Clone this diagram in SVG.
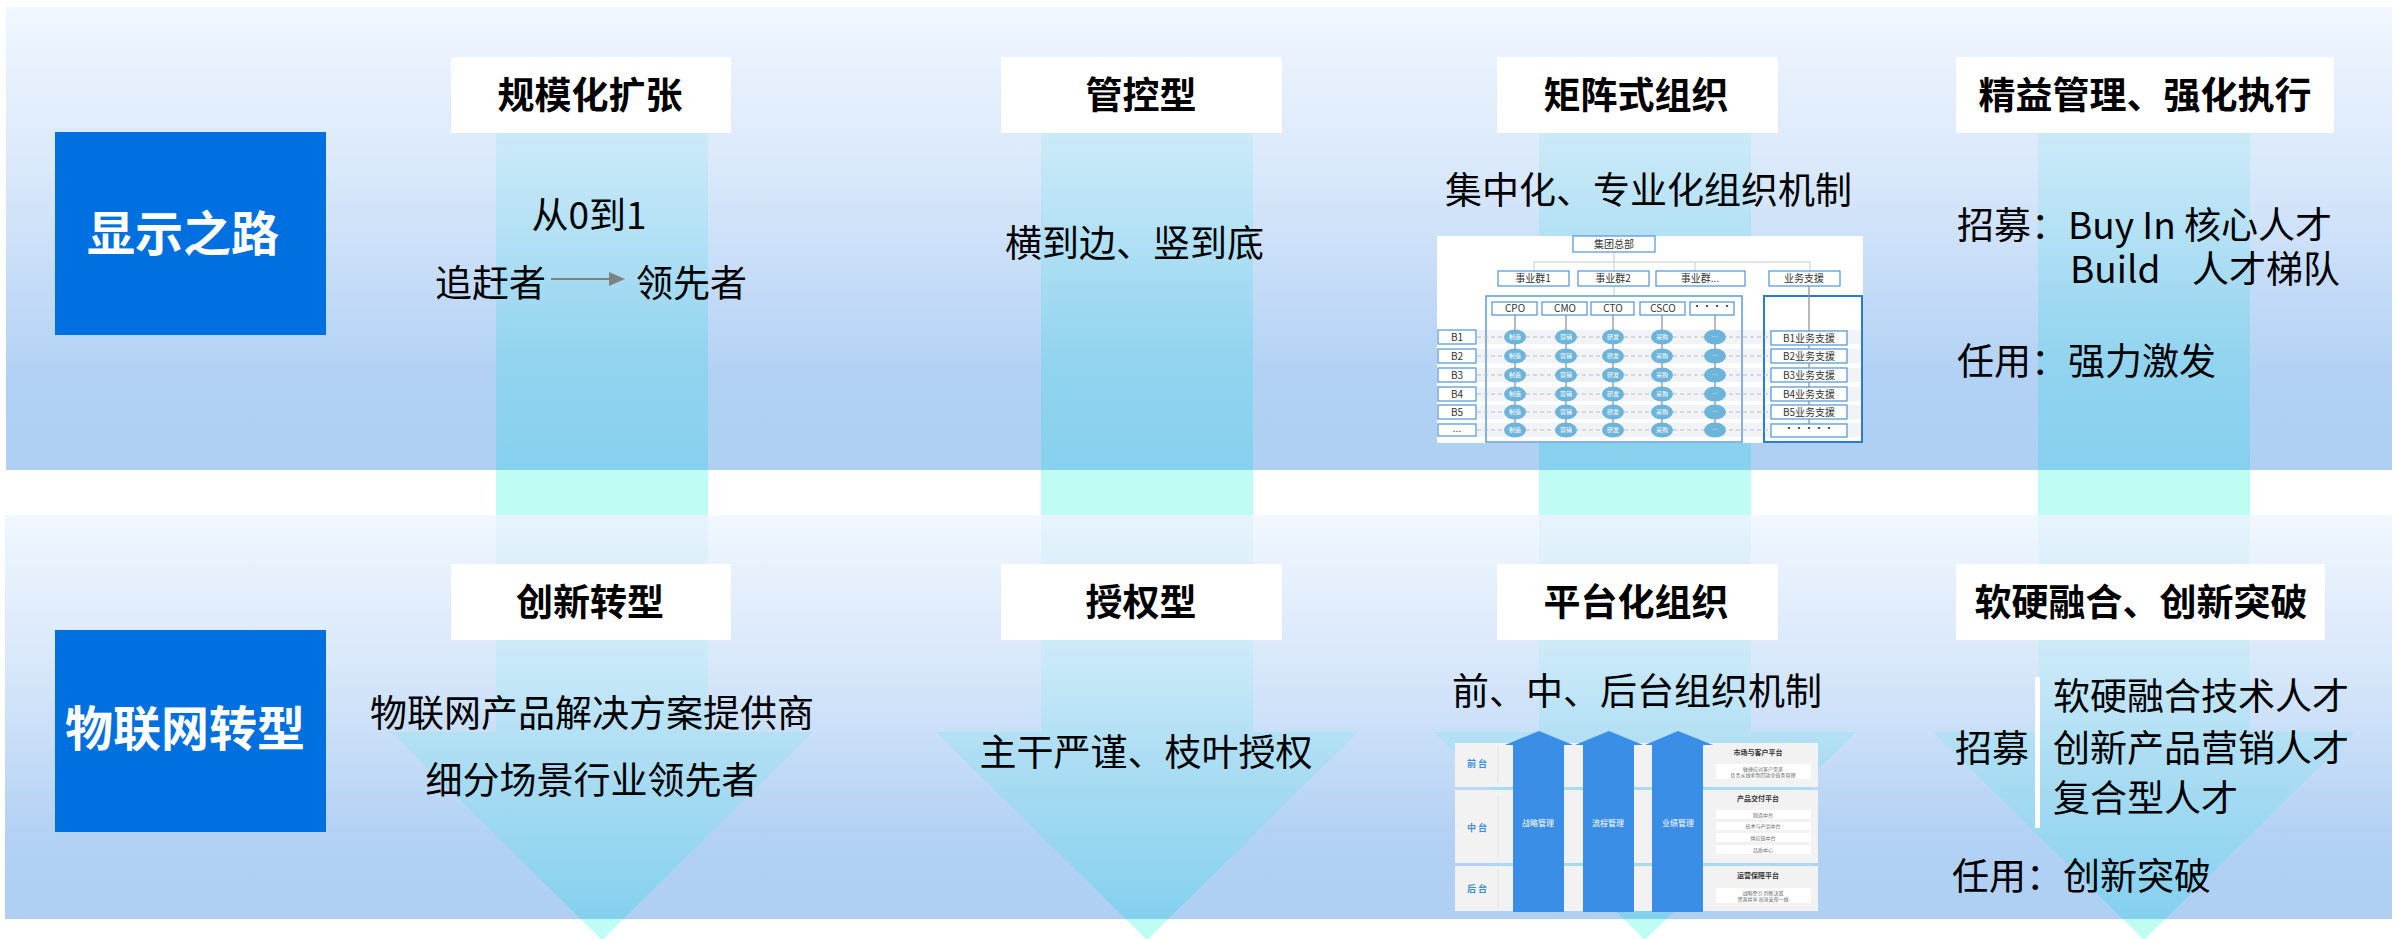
<svg xmlns="http://www.w3.org/2000/svg" width="2397" height="939" viewBox="0 0 2397 939">
<defs>
<style>
.t{font-family:"Noto Sans CJK SC","Noto Sans",sans-serif;font-size:37px;fill:#000}
.hd{font-weight:700;text-anchor:middle}
.lb{font-family:"Noto Sans CJK SC",sans-serif;font-size:48px;font-weight:700;fill:#fff;text-anchor:middle}
.hbox{fill:#fff}
.bbox{fill:#0070E0}
.gap{fill:#BFFCF4}
.s{font-family:"Noto Sans CJK SC",sans-serif;font-size:10px;fill:#333;text-anchor:middle}
.e{font-family:"Noto Sans CJK SC",sans-serif;font-size:6px;fill:#fff;text-anchor:middle}
.mb{fill:#fff;stroke:#5B9BD5;stroke-width:1.3}
.el{fill:#6CB4DA}
.cl{stroke:#8A8A8A;stroke-width:1.2}
.dl{stroke:#BDBDBD;stroke-width:1;stroke-dasharray:4 3}
.row{fill:#F1F3F6}
.pr{fill:#F2F2F2}
.arw{fill:#3A8EE6}
.at{font-family:"Noto Sans CJK SC",sans-serif;font-size:8px;fill:#fff;text-anchor:middle}
.pl{font-family:"Noto Sans CJK SC",sans-serif;font-size:9px;font-weight:700;fill:#3D8BE0;text-anchor:middle}
.pt{font-family:"Noto Sans CJK SC",sans-serif;font-size:7px;font-weight:700;fill:#333;text-anchor:middle}
.ps{font-family:"Noto Sans CJK SC",sans-serif;font-size:5px;fill:#666;text-anchor:middle}
</style>
<linearGradient id="pg" x1="0" y1="0" x2="0" y2="1">
<stop offset="0" stop-color="#F0F7FE"/>
<stop offset="0.4" stop-color="#D6E6FA"/>
<stop offset="0.8" stop-color="#B2D1F4"/>
<stop offset="1" stop-color="#AFD0F3"/>
</linearGradient>
<linearGradient id="bt" gradientUnits="userSpaceOnUse" x1="0" y1="133" x2="0" y2="470">
<stop offset="0" stop-color="#CCEAF8"/>
<stop offset="0.35" stop-color="#AEDFF4"/>
<stop offset="0.65" stop-color="#93D4EF"/>
<stop offset="1" stop-color="#86D1EE"/>
</linearGradient>
<linearGradient id="bb" gradientUnits="userSpaceOnUse" x1="0" y1="515" x2="0" y2="919">
<stop offset="0" stop-color="#E6F3FC"/>
<stop offset="0.36" stop-color="#C9E9F8"/>
<stop offset="0.61" stop-color="#ACDDF3"/>
<stop offset="1" stop-color="#84D0EE"/>
</linearGradient>
<marker id="ah" markerUnits="userSpaceOnUse" markerWidth="16" markerHeight="14" refX="1" refY="7" orient="auto">
<path d="M0,0 L16,7 L0,14 z" fill="#808080"/>
</marker>
</defs>

<g id="background">
<rect x="6" y="7" width="2386" height="463" fill="url(#pg)"/>
<rect x="496" y="133" width="212" height="337" fill="url(#bt)"/>
<rect x="1041" y="133" width="212" height="337" fill="url(#bt)"/>
<rect x="1539" y="133" width="212" height="337" fill="url(#bt)"/>
<rect x="2038" y="133" width="212" height="337" fill="url(#bt)"/>
<rect class="gap" x="496" y="470" width="212" height="45"/>
<rect class="gap" x="1041" y="470" width="212" height="45"/>
<rect class="gap" x="1539" y="470" width="212" height="45"/>
<rect class="gap" x="2038" y="470" width="212" height="45"/>
<rect x="5" y="515" width="2387" height="404" fill="url(#pg)"/>
<polygon fill="url(#bb)" points="496,515 708,515 708,732 813,732 623.3,919 580.7,919 391,732 496,732"/>
<polygon class="gap" points="580.7,919 623.3,919 602,940"/>
<polygon fill="url(#bb)" points="1041,515 1253,515 1253,732 1358,732 1168.3,919 1125.7,919 936,732 1041,732"/>
<polygon class="gap" points="1125.7,919 1168.3,919 1147,940"/>
<polygon fill="url(#bb)" points="1539,515 1751,515 1751,732 1856,732 1666.3,919 1623.7,919 1434,732 1539,732"/>
<polygon class="gap" points="1623.7,919 1666.3,919 1645,940"/>
<polygon fill="url(#bb)" points="2038,515 2250,515 2250,732 2355,732 2165.3,919 2122.7,919 1933,732 2038,732"/>
<polygon class="gap" points="2122.7,919 2165.3,919 2144,940"/>
</g>

<g id="label-display">
<rect class="bbox" x="55" y="132" width="271" height="203"/>
<text class="lb" x="183" y="251">显示之路</text>
</g>
<g id="label-iot">
<rect class="bbox" x="55" y="630" width="271" height="202"/>
<text class="lb" x="185" y="746">物联网转型</text>
</g>

<g id="h-scale">
<rect class="hbox" x="451" y="57" width="280" height="76"/>
<text class="t hd" x="590" y="109">规模化扩张</text>
</g>
<g id="h-control">
<rect class="hbox" x="1001" y="57" width="281" height="76"/>
<text class="t hd" x="1141" y="109">管控型</text>
</g>
<g id="h-matrix">
<rect class="hbox" x="1497" y="57" width="281" height="76"/>
<text class="t hd" x="1636" y="109">矩阵式组织</text>
</g>
<g id="h-lean">
<rect class="hbox" x="1956" y="57" width="378" height="76"/>
<text class="t hd" x="2145" y="109">精益管理、强化执行</text>
</g>
<g id="h-innov">
<rect class="hbox" x="451" y="564" width="280" height="76"/>
<text class="t hd" x="590" y="616">创新转型</text>
</g>
<g id="h-auth">
<rect class="hbox" x="1001" y="564" width="281" height="76"/>
<text class="t hd" x="1141" y="616">授权型</text>
</g>
<g id="h-platform">
<rect class="hbox" x="1497" y="564" width="281" height="76"/>
<text class="t hd" x="1636" y="616">平台化组织</text>
</g>
<g id="h-fusion">
<rect class="hbox" x="1956" y="564" width="369" height="76"/>
<text class="t hd" x="2141" y="616">软硬融合、创新突破</text>
</g>

<g id="c1-top">
<text class="t" x="589" y="229" text-anchor="middle">从0到1</text>
<text class="t" x="435" y="297">追赶者</text>
<text class="t" x="636" y="297">领先者</text>
</g>
<g id="c2-top">
<text class="t" x="1005" y="257">横到边、竖到底</text>
</g>
<g id="c3-top">
<text class="t" x="1445" y="204">集中化、专业化组织机制</text>
</g>
<g id="c4-top">
<text class="t" x="1957" y="239">招募：Buy In 核心人才</text>
<text class="t" y="283"><tspan x="2070">Build</tspan><tspan x="2192">人才梯队</tspan></text>
<text class="t" x="1957" y="375">任用：强力激发</text>
</g>

<g id="c1-bot">
<text class="t" x="592" y="727" text-anchor="middle">物联网产品解决方案提供商</text>
<text class="t" x="592" y="794" text-anchor="middle">细分场景行业领先者</text>
</g>
<g id="c2-bot">
<text class="t" x="1146" y="766" text-anchor="middle">主干严谨、枝叶授权</text>
</g>
<g id="c3-bot">
<text class="t" x="1637" y="705" text-anchor="middle">前、中、后台组织机制</text>
</g>
<g id="c4-bot">
<rect x="2035" y="677" width="5" height="151" fill="#fff"/>
<text class="t" x="1955" y="762">招募</text>
<text class="t" x="2053" y="710">软硬融合技术人才</text>
<text class="t" x="2053" y="762">创新产品营销人才</text>
<text class="t" x="2053" y="812">复合型人才</text>
<text class="t" x="1952" y="890">任用：创新突破</text>
</g>

<g id="connectors">
<line x1="551" y1="279" x2="610" y2="279" stroke="#808080" stroke-width="2.2" marker-end="url(#ah)"/>
</g>

<g id="matrix-chart">
<rect x="1437" y="236" width="426" height="207" fill="#fff"/>
<rect class="row" x="1477" y="330" width="385" height="14"/>
<rect class="row" x="1477" y="349" width="385" height="14"/>
<rect class="row" x="1477" y="368" width="385" height="14"/>
<rect class="row" x="1477" y="387" width="385" height="14"/>
<rect class="row" x="1477" y="405" width="385" height="14"/>
<rect class="row" x="1477" y="423" width="385" height="14"/>
<g stroke="#C8C8C8" stroke-width="1" fill="none">
<line x1="1614" y1="252" x2="1614" y2="262"/>
<line x1="1534" y1="262" x2="1810" y2="262"/>
<line x1="1534" y1="262" x2="1534" y2="271"/>
<line x1="1614" y1="262" x2="1614" y2="271"/>
<line x1="1695" y1="262" x2="1695" y2="271"/>
<line x1="1810" y1="262" x2="1810" y2="271"/>
<line x1="1614" y1="286" x2="1614" y2="296"/>
</g>
<rect class="mb" x="1573" y="236" width="82" height="16"/>
<text class="s" x="1614" y="248">集团总部</text>
<rect class="mb" x="1498" y="271" width="71" height="15"/>
<text class="s" x="1533" y="282">事业群1</text>
<rect class="mb" x="1578" y="271" width="71" height="15"/>
<text class="s" x="1613" y="282">事业群2</text>
<rect class="mb" x="1656" y="271" width="89" height="15"/>
<text class="s" x="1700" y="282">事业群...</text>
<rect class="mb" x="1769" y="271" width="71" height="15"/>
<text class="s" x="1804" y="282">业务支援</text>
<rect x="1486" y="296" width="256" height="146" fill="none" stroke="#5B9BD5" stroke-width="1.5"/>
<rect x="1764" y="296" width="98" height="146" fill="none" stroke="#2B7BD6" stroke-width="2"/>
<line class="cl" x1="1809" y1="286" x2="1809" y2="425"/>
<g>
<rect class="mb" x="1492" y="302" width="45" height="13"/><text class="s" x="1515" y="312">CPO</text>
<rect class="mb" x="1542" y="302" width="45" height="13"/><text class="s" x="1565" y="312">CMO</text>
<rect class="mb" x="1591" y="302" width="43" height="13"/><text class="s" x="1613" y="312">CTO</text>
<rect class="mb" x="1640" y="302" width="45" height="13"/><text class="s" x="1663" y="312">CSCO</text>
<rect class="mb" x="1690" y="302" width="44" height="13"/><text class="s" x="1712" y="310">····</text>
</g>
<g class="dl">
<line x1="1477" y1="337" x2="1770" y2="337"/>
<line x1="1477" y1="356" x2="1770" y2="356"/>
<line x1="1477" y1="375" x2="1770" y2="375"/>
<line x1="1477" y1="394" x2="1770" y2="394"/>
<line x1="1477" y1="412" x2="1770" y2="412"/>
<line x1="1477" y1="430" x2="1770" y2="430"/>
</g>
<line class="cl" x1="1515" y1="315" x2="1515" y2="432"/>
<line class="cl" x1="1566" y1="315" x2="1566" y2="432"/>
<line class="cl" x1="1613" y1="315" x2="1613" y2="432"/>
<line class="cl" x1="1662" y1="315" x2="1662" y2="432"/>
<line class="cl" x1="1715" y1="315" x2="1715" y2="432"/>
<g>
<rect class="mb" x="1438" y="330" width="38" height="14"/><text class="s" x="1457" y="341">B1</text>
<rect class="mb" x="1438" y="349" width="38" height="14"/><text class="s" x="1457" y="360">B2</text>
<rect class="mb" x="1438" y="368" width="38" height="14"/><text class="s" x="1457" y="379">B3</text>
<rect class="mb" x="1438" y="387" width="38" height="14"/><text class="s" x="1457" y="398">B4</text>
<rect class="mb" x="1438" y="405" width="38" height="14"/><text class="s" x="1457" y="416">B5</text>
<rect class="mb" x="1438" y="424" width="38" height="12"/><text class="s" x="1457" y="432">...</text>
</g>
<g>
<ellipse class="el" cx="1515" cy="337" rx="11" ry="7.5"/><text class="e" x="1515" y="339">制造</text>
<ellipse class="el" cx="1566" cy="337" rx="11" ry="7.5"/><text class="e" x="1566" y="339">营销</text>
<ellipse class="el" cx="1613" cy="337" rx="11" ry="7.5"/><text class="e" x="1613" y="339">研发</text>
<ellipse class="el" cx="1662" cy="337" rx="11" ry="7.5"/><text class="e" x="1662" y="339">采购</text>
<ellipse class="el" cx="1715" cy="337" rx="11" ry="7.5"/><text class="e" x="1715" y="339">…</text>
<ellipse class="el" cx="1515" cy="356" rx="11" ry="7.5"/><text class="e" x="1515" y="358">制造</text>
<ellipse class="el" cx="1566" cy="356" rx="11" ry="7.5"/><text class="e" x="1566" y="358">营销</text>
<ellipse class="el" cx="1613" cy="356" rx="11" ry="7.5"/><text class="e" x="1613" y="358">研发</text>
<ellipse class="el" cx="1662" cy="356" rx="11" ry="7.5"/><text class="e" x="1662" y="358">采购</text>
<ellipse class="el" cx="1715" cy="356" rx="11" ry="7.5"/><text class="e" x="1715" y="358">…</text>
<ellipse class="el" cx="1515" cy="375" rx="11" ry="7.5"/><text class="e" x="1515" y="377">制造</text>
<ellipse class="el" cx="1566" cy="375" rx="11" ry="7.5"/><text class="e" x="1566" y="377">营销</text>
<ellipse class="el" cx="1613" cy="375" rx="11" ry="7.5"/><text class="e" x="1613" y="377">研发</text>
<ellipse class="el" cx="1662" cy="375" rx="11" ry="7.5"/><text class="e" x="1662" y="377">采购</text>
<ellipse class="el" cx="1715" cy="375" rx="11" ry="7.5"/><text class="e" x="1715" y="377">…</text>
<ellipse class="el" cx="1515" cy="394" rx="11" ry="7.5"/><text class="e" x="1515" y="396">制造</text>
<ellipse class="el" cx="1566" cy="394" rx="11" ry="7.5"/><text class="e" x="1566" y="396">营销</text>
<ellipse class="el" cx="1613" cy="394" rx="11" ry="7.5"/><text class="e" x="1613" y="396">研发</text>
<ellipse class="el" cx="1662" cy="394" rx="11" ry="7.5"/><text class="e" x="1662" y="396">采购</text>
<ellipse class="el" cx="1715" cy="394" rx="11" ry="7.5"/><text class="e" x="1715" y="396">…</text>
<ellipse class="el" cx="1515" cy="412" rx="11" ry="7.5"/><text class="e" x="1515" y="414">制造</text>
<ellipse class="el" cx="1566" cy="412" rx="11" ry="7.5"/><text class="e" x="1566" y="414">营销</text>
<ellipse class="el" cx="1613" cy="412" rx="11" ry="7.5"/><text class="e" x="1613" y="414">研发</text>
<ellipse class="el" cx="1662" cy="412" rx="11" ry="7.5"/><text class="e" x="1662" y="414">采购</text>
<ellipse class="el" cx="1715" cy="412" rx="11" ry="7.5"/><text class="e" x="1715" y="414">…</text>
<ellipse class="el" cx="1515" cy="430" rx="11" ry="7.5"/><text class="e" x="1515" y="432">制造</text>
<ellipse class="el" cx="1566" cy="430" rx="11" ry="7.5"/><text class="e" x="1566" y="432">营销</text>
<ellipse class="el" cx="1613" cy="430" rx="11" ry="7.5"/><text class="e" x="1613" y="432">研发</text>
<ellipse class="el" cx="1662" cy="430" rx="11" ry="7.5"/><text class="e" x="1662" y="432">采购</text>
<ellipse class="el" cx="1715" cy="430" rx="11" ry="7.5"/><text class="e" x="1715" y="432">…</text>
</g>
<g>
<rect class="mb" x="1771" y="331" width="76" height="14"/><text class="s" x="1809" y="342">B1业务支援</text>
<rect class="mb" x="1771" y="349" width="76" height="14"/><text class="s" x="1809" y="360">B2业务支援</text>
<rect class="mb" x="1771" y="368" width="76" height="14"/><text class="s" x="1809" y="379">B3业务支援</text>
<rect class="mb" x="1771" y="387" width="76" height="14"/><text class="s" x="1809" y="398">B4业务支援</text>
<rect class="mb" x="1771" y="405" width="76" height="14"/><text class="s" x="1809" y="416">B5业务支援</text>
<rect class="mb" x="1771" y="424" width="76" height="13"/><text class="s" x="1809" y="432">·····</text>
</g>
</g>

<g id="platform-chart">
<rect class="pr" x="1455" y="743" width="363" height="44"/>
<rect class="pr" x="1455" y="790" width="363" height="73"/>
<rect class="pr" x="1455" y="866" width="363" height="45"/>
<line x1="1488" y1="788.5" x2="1813" y2="788.5" stroke="#A8DDF2" stroke-width="2"/>
<line x1="1488" y1="864.5" x2="1813" y2="864.5" stroke="#A8DDF2" stroke-width="2"/>
<g stroke="#DDDDDD" stroke-width="1">
<line x1="1498" y1="747" x2="1498" y2="783"/>
<line x1="1498" y1="796" x2="1498" y2="857"/>
<line x1="1498" y1="870" x2="1498" y2="907"/>
</g>
<text class="pl" x="1477" y="767">前 台</text>
<text class="pl" x="1477" y="831">中 台</text>
<text class="pl" x="1477" y="892">后 台</text>
<polygon class="arw" points="1513,912 1513,745 1505,745 1539,731 1573,745 1564,745 1564,912"/>
<polygon class="arw" points="1583,912 1583,745 1575,745 1609,731 1643,745 1634,745 1634,912"/>
<polygon class="arw" points="1652,912 1652,745 1645,745 1678,731 1713,745 1703,745 1703,912"/>
<text class="at" x="1538" y="826">战略管理</text>
<text class="at" x="1608" y="826">流程管理</text>
<text class="at" x="1678" y="826">业绩管理</text>
<text class="pt" x="1758" y="755">市场与客户平台</text>
<rect x="1716" y="764" width="95" height="15" fill="#fff"/>
<text class="ps" x="1763" y="771">敏捷应对客户需求</text>
<text class="ps" x="1763" y="777">负责从线索到回款全链条管理</text>
<text class="pt" x="1758" y="801">产品交付平台</text>
<rect x="1716" y="810" width="95" height="9" fill="#fff"/><text class="ps" x="1763" y="816.5">制造中台</text>
<rect x="1716" y="822" width="95" height="8" fill="#fff"/><text class="ps" x="1763" y="828">技术与产品中台</text>
<rect x="1716" y="833" width="95" height="9" fill="#fff"/><text class="ps" x="1763" y="839.5">供应链中台</text>
<rect x="1716" y="845" width="95" height="9" fill="#fff"/><text class="ps" x="1763" y="851.5">品质中心</text>
<text class="pt" x="1758" y="878">运营保障平台</text>
<rect x="1716" y="888" width="95" height="15" fill="#fff"/>
<text class="ps" x="1763" y="895">战略牵引  判断决策</text>
<text class="ps" x="1763" y="901">资源共享  高效支撑一线</text>
</g>
</svg>
